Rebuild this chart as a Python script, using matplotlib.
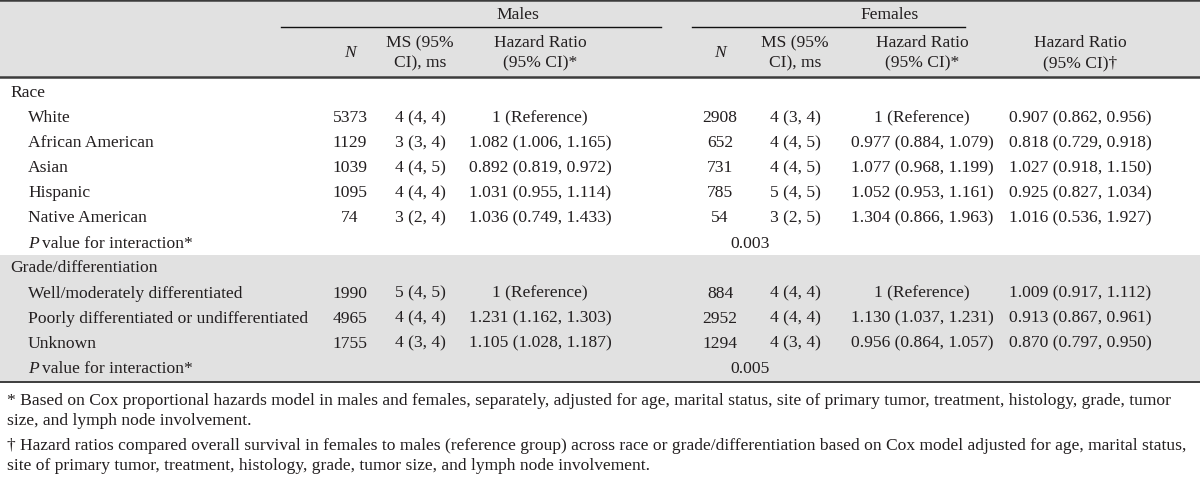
import matplotlib.pyplot as plt
from matplotlib.patches import Rectangle

plt.rcParams['font.family'] = ['Liberation Serif', 'DejaVu Serif']

# table content
race_labels = ['White', 'African American', 'Asian', 'Hispanic', 'Native American']
race_n_m = ['5373', '1129', '1039', '1095', '74']
race_ms_m = ['4 (4, 4)', '3 (3, 4)', '4 (4, 5)', '4 (4, 4)', '3 (2, 4)']
race_hr_m = ['1 (Reference)', '1.082 (1.006, 1.165)', '0.892 (0.819, 0.972)',
             '1.031 (0.955, 1.114)', '1.036 (0.749, 1.433)']
race_n_f = ['2908', '652', '731', '785', '54']
race_ms_f = ['4 (3, 4)', '4 (4, 5)', '4 (4, 5)', '5 (4, 5)', '3 (2, 5)']
race_hr_f = ['1 (Reference)', '0.977 (0.884, 1.079)', '1.077 (0.968, 1.199)',
             '1.052 (0.953, 1.161)', '1.304 (0.866, 1.963)']
race_hr_fm = ['0.907 (0.862, 0.956)', '0.818 (0.729, 0.918)', '1.027 (0.918, 1.150)',
              '0.925 (0.827, 1.034)', '1.016 (0.536, 1.927)']
race_p = '0.003'

grade_labels = ['Well/moderately differentiated',
                'Poorly differentiated or undifferentiated', 'Unknown']
grade_n_m = ['1990', '4965', '1755']
grade_ms_m = ['5 (4, 5)', '4 (4, 4)', '4 (3, 4)']
grade_hr_m = ['1 (Reference)', '1.231 (1.162, 1.303)', '1.105 (1.028, 1.187)']
grade_n_f = ['884', '2952', '1294']
grade_ms_f = ['4 (4, 4)', '4 (4, 4)', '4 (3, 4)']
grade_hr_f = ['1 (Reference)', '1.130 (1.037, 1.231)', '0.956 (0.864, 1.057)']
grade_hr_fm = ['1.009 (0.917, 1.112)', '0.913 (0.867, 0.961)', '0.870 (0.797, 0.950)']
grade_p = '0.005'

footnotes = [
    '* Based on Cox proportional hazards model in males and females, separately, adjusted for age, marital status, site of primary tumor, treatment, histology, grade, tumor',
    'size, and lymph node involvement.',
    '\u2020 Hazard ratios compared overall survival in females to males (reference group) across race or grade/differentiation based on Cox model adjusted for age, marital status,',
    'site of primary tumor, treatment, histology, grade, tumor size, and lymph node involvement.',
]

FS = 12.6
TXT = '#231f20'
GREY = '#e1e1e1'
LINE = '#3c3c3c'

fig = plt.figure(figsize=(12, 4.85), dpi=100)
ax = fig.add_axes([0, 0, 1, 1])
ax.set_xlim(0, 1200)
ax.set_ylim(485, 0)
ax.axis('off')


def txt(x, y, s, ha='center', **kw):
    return ax.text(x, y, s, ha=ha, va='center', fontsize=FS, color=TXT, **kw)


# background bands
ax.add_patch(Rectangle((0, 0), 1200, 78, color=GREY, lw=0))
ax.add_patch(Rectangle((0, 256), 1200, 126, color=GREY, lw=0))

# rules
ax.plot([0, 1200], [1.2, 1.2], color=LINE, lw=1.8)
ax.plot([0, 1200], [78, 78], color=LINE, lw=1.8)
ax.plot([0, 1200], [382.5, 382.5], color=LINE, lw=1.4)
ax.plot([281, 661], [27.5, 27.5], color='#111111', lw=1.0)
ax.plot([692, 965], [27.5, 27.5], color='#111111', lw=1.0)

# header
col_m = [350, 420, 540]
col_f = [720, 795, 922]
col_all = 1080
txt(518, 15, 'Males')
txt(890, 15, 'Females')
for cols, star in [(col_m, '*'), (col_f, '*')]:
    txt(cols[0], 53, 'N', style='italic')
    txt(cols[1], 43, 'MS (95%')
    txt(cols[1], 63, 'CI), ms')
    txt(cols[2], 43, 'Hazard Ratio')
    txt(cols[2], 63, '(95% CI)' + star)
txt(col_all, 43, 'Hazard Ratio')
txt(col_all, 63, '(95% CI)\u2020')

renderer = fig.canvas.get_renderer()


def p_label(y):
    t = txt(28, y, 'P', ha='left', style='italic')
    bb = t.get_window_extent(renderer)
    x1 = ax.transData.inverted().transform((bb.x1, 0))[0]
    txt(x1 + 3, y, 'value for interaction*', ha='left')


def block(y0, title, labels, nm, msm, hrm, nf, msf, hrf, hrfm, p):
    txt(10, y0, title, ha='left')
    for i, lab in enumerate(labels):
        y = y0 + 25.1 * (i + 1)
        txt(28, y, lab, ha='left')
        txt(col_m[0], y, nm[i])
        txt(col_m[1], y, msm[i])
        txt(col_m[2], y, hrm[i])
        txt(col_f[0], y, nf[i])
        txt(col_f[1], y, msf[i])
        txt(col_f[2], y, hrf[i])
        txt(col_all, y, hrfm[i])
    yp = y0 + 25.1 * (len(labels) + 1)
    p_label(yp)
    txt(750, yp, p)


block(93, 'Race', race_labels, race_n_m, race_ms_m, race_hr_m,
      race_n_f, race_ms_f, race_hr_f, race_hr_fm, race_p)
block(268.5, 'Grade/differentiation', grade_labels, grade_n_m, grade_ms_m, grade_hr_m,
      grade_n_f, grade_ms_f, grade_hr_f, grade_hr_fm, grade_p)

for y, line in zip([401, 421, 446, 466], footnotes):
    txt(7, y, line, ha='left')

fig.savefig('out.png', dpi=100)
